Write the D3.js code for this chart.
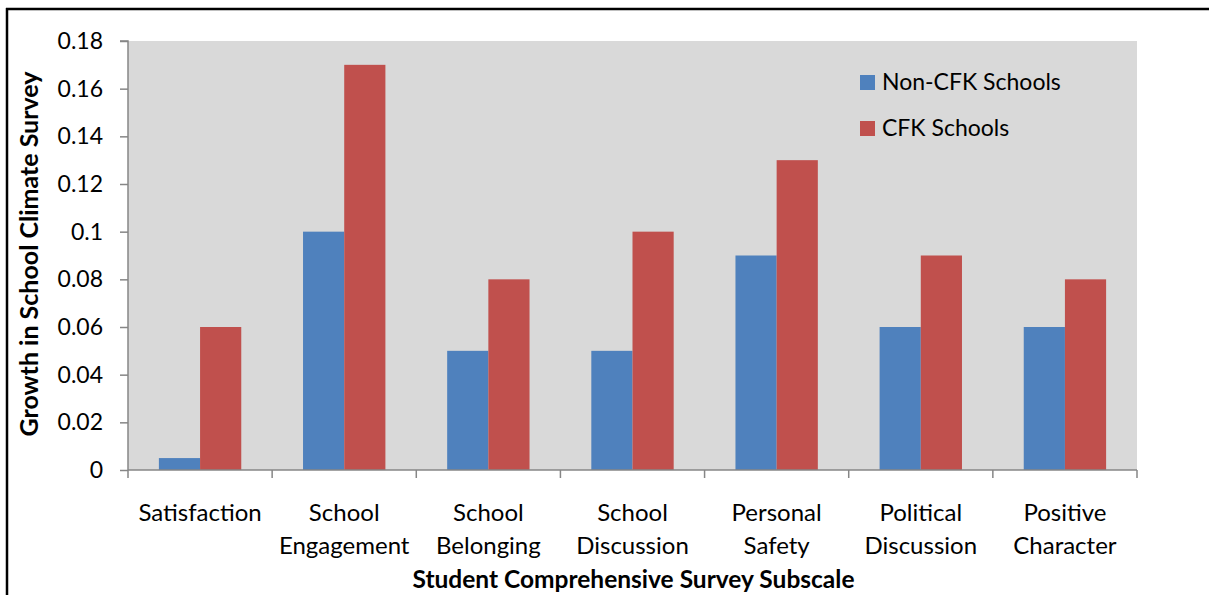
<!DOCTYPE html>
<html>
<head>
<meta charset="utf-8">
<script src="https://cdn.jsdelivr.net/npm/d3@7"></script>
<style>
  html, body { margin: 0; padding: 0; background: #fff; }
  svg { display: block; }
  text { font-family: Lato, "Open Sans", sans-serif; fill: #000; }
</style>
</head>
<body>
<svg id="chart" width="1209" height="595"></svg>
<script>
const categories = [
  ["Satisfaction"],
  ["School", "Engagement"],
  ["School", "Belonging"],
  ["School", "Discussion"],
  ["Personal", "Safety"],
  ["Political", "Discussion"],
  ["Positive", "Character"]
];
const seriesNames = ["Non-CFK Schools", "CFK Schools"];
const nonCfk = [0.005, 0.10, 0.05, 0.05, 0.09, 0.06, 0.06];
const cfk = [0.06, 0.17, 0.08, 0.10, 0.13, 0.09, 0.08];
const yTicks = [0, 0.02, 0.04, 0.06, 0.08, 0.1, 0.12, 0.14, 0.16, 0.18];
const colors = ["#4f81bd", "#c0504d"];

const svg = d3.select("#chart");
const plot = { left: 128, right: 1137, top: 41, bottom: 470 };

// outer frame (left and top edges visible in the canvas)
svg.append("line").attr("x1", 7).attr("x2", 7).attr("y1", 8).attr("y2", 595)
  .attr("stroke", "#000").attr("stroke-width", 2.5);
svg.append("line").attr("x1", 6).attr("x2", 1209).attr("y1", 9).attr("y2", 9)
  .attr("stroke", "#000").attr("stroke-width", 2.5);

const x = d3.scaleBand().domain(d3.range(categories.length))
  .range([plot.left, plot.right]).paddingInner(0).paddingOuter(0);
const y = d3.scaleLinear().domain([0, 0.18]).range([plot.bottom, plot.top]);

// plot background
svg.append("rect").attr("x", plot.left).attr("y", plot.top)
  .attr("width", plot.right - plot.left).attr("height", plot.bottom - plot.top)
  .attr("fill", "#d9d9d9");

// bars: two per category, gap of 150% of a bar width
const barW = x.bandwidth() / 3.5;
const series = [nonCfk, cfk];
series.forEach((vals, s) => {
  svg.append("g").selectAll("rect").data(vals).join("rect")
    .attr("x", (d, i) => x(i) + barW * 0.75 + s * barW)
    .attr("width", barW)
    .attr("y", d => y(d))
    .attr("height", d => y(0) - y(d))
    .attr("fill", colors[s]);
});

// y axis
const yAxis = d3.axisLeft(y).tickValues(yTicks).tickSize(8).tickPadding(17)
  .tickFormat(d => d === 0 ? "0" : String(+d.toFixed(2)));
const gy = svg.append("g").attr("transform", `translate(${plot.left},0)`).call(yAxis);
gy.select(".domain").attr("stroke", "#868686").attr("stroke-width", 1.5).attr("d", `M-8,${plot.top}H0V${plot.bottom}`);
gy.selectAll(".tick line").attr("stroke", "#868686").attr("stroke-width", 1.5);
gy.selectAll(".tick text").style("font-family", "Lato, sans-serif").style("font-size", "23px").attr("fill", "#000");

// x axis with ticks at category boundaries
const boundaries = d3.range(categories.length + 1).map(i => plot.left + i * x.bandwidth());
const gx = svg.append("g");
gx.append("line").attr("x1", plot.left).attr("x2", plot.right)
  .attr("y1", plot.bottom).attr("y2", plot.bottom)
  .attr("stroke", "#868686").attr("stroke-width", 1.5);
gx.selectAll("line.tk").data(boundaries).join("line").attr("class", "tk")
  .attr("x1", d => d).attr("x2", d => d)
  .attr("y1", plot.bottom).attr("y2", plot.bottom + 8)
  .attr("stroke", "#868686").attr("stroke-width", 1.5);

// category labels
const lab = svg.append("g").selectAll("text").data(categories).join("text")
  .attr("text-anchor", "middle")
  .style("font-size", "24px");
lab.each(function(lines, i) {
  const t = d3.select(this);
  lines.forEach((ln, k) => {
    t.append("tspan").attr("x", x(i) + x.bandwidth() / 2)
      .attr("y", 521 + k * 33).text(ln);
  });
});

// axis titles
svg.append("text").attr("x", (plot.left + plot.right) / 2 + 1).attr("y", 588)
  .attr("text-anchor", "middle").style("font-size", "24.5px").style("font-weight", "bold")
  .text("Student Comprehensive Survey Subscale");
svg.append("text").attr("transform", "translate(38,254) rotate(-90)")
  .attr("text-anchor", "middle").style("font-size", "25px").style("font-weight", "bold")
  .text("Growth in School Climate Survey");

// legend
const leg = svg.append("g");
seriesNames.forEach((name, i) => {
  const yy = 82 + i * 46;
  leg.append("rect").attr("x", 860).attr("y", yy - 7).attr("width", 15).attr("height", 15)
    .attr("fill", colors[i]);
  leg.append("text").attr("x", 882).attr("y", yy + 8).style("font-size", "23px").text(name);
});
</script>
</body>
</html>
